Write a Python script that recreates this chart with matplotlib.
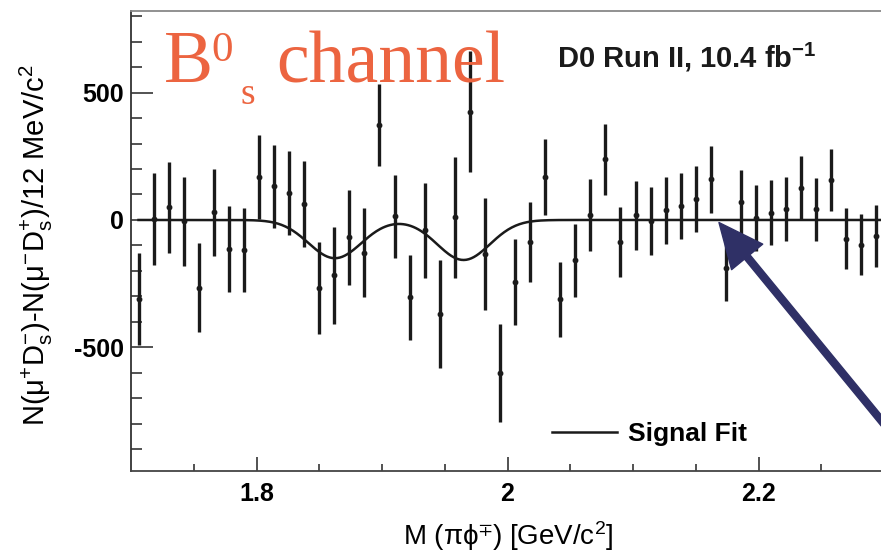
import numpy as np
import matplotlib
matplotlib.use('Agg')
import matplotlib.pyplot as plt

plt.rcParams['axes.unicode_minus'] = False

# bin centres (12 MeV bins) and asymmetry N(mu+Ds-) - N(mu-Ds+)
mass = [1.706, 1.718, 1.730, 1.742, 1.754, 1.766, 1.778, 1.790, 1.802, 1.814,
        1.826, 1.838, 1.850, 1.862, 1.874, 1.886, 1.898, 1.910, 1.922, 1.934,
        1.946, 1.958, 1.970, 1.982, 1.994, 2.006, 2.018, 2.030, 2.042, 2.054,
        2.066, 2.078, 2.090, 2.102, 2.114, 2.126, 2.138, 2.150, 2.162, 2.174,
        2.186, 2.198, 2.210, 2.222, 2.234, 2.246, 2.258, 2.270, 2.282, 2.294]
diff = [-310, 5, 50, -5, -265, 30, -115, -118, 170, 132,
        106, 62, -268, -217, -68, -128, 372, 14, -304, -40,
        -370, 10, 425, -132, -600, -243, -86, 168, -312, -158,
        21, 238, -86, 18, -5, 38, 54, 81, 159, -188,
        70, 8, 29, 44, 125, 42, 158, -73, -97, -63]
err = [180, 180, 178, 175, 173, 170, 168, 166, 165, 163,
       165, 170, 180, 190, 187, 175, 162, 162, 168, 186,
       212, 237, 238, 220, 192, 170, 158, 150, 147, 144,
       141, 139, 136, 135, 134, 132, 130, 130, 130, 130,
       126, 128, 126, 125, 126, 123, 122, 120, 119, 120]

# signal fit: D+ and Ds peaks
fit_mass = [1.8625, 1.965]
fit_amp = [-150, -157]
fit_sigma = 0.021

ink = '#1a1a1a'

fig = plt.figure(figsize=(8.81, 5.53), dpi=100)
ax = fig.add_axes([131/881., 82/553., 750/881., 460/553.])

xf = np.linspace(mass[0], 2.31, 600)
yf = np.zeros_like(xf)
for m, a in zip(fit_mass, fit_amp):
    yf += a * np.exp(-(xf - m)**2 / (2 * fit_sigma**2))
fitline, = ax.plot(xf, yf, color=ink, lw=1.8, label='Signal Fit')

ax.errorbar(mass, diff, yerr=err, fmt='o', ms=3.2, color=ink, ecolor=ink,
            elinewidth=2.4, capsize=0)

ax.set_xlim(1.7, 2.2976)
ax.set_ylim(-985, 820)

ax.set_xticks([1.8, 2.0, 2.2])
ax.set_xticklabels(['1.8', '2', '2.2'])
ax.set_xticks(np.arange(1.75, 2.3, 0.05), minor=True)
ax.set_yticks([-500, 0, 500])
ax.set_yticklabels(['-500', '0', '500'])
ax.set_yticks(np.arange(-900, 801, 100), minor=True)

for lab in ax.get_xticklabels() + ax.get_yticklabels():
    lab.set_fontweight('bold')
    lab.set_fontsize(18)
    lab.set_family('Liberation Sans')
ax.tick_params(axis='y', which='major', direction='in', length=16, width=1.3, color='#444444', pad=5)
ax.tick_params(axis='y', which='minor', direction='in', length=8, width=1.3, color='#444444')
ax.tick_params(axis='x', which='major', direction='in', length=10, width=1.3, color='#444444', pad=8)
ax.tick_params(axis='x', which='minor', direction='in', length=5, width=1.3, color='#444444')

ax.spines['right'].set_visible(False)
ax.spines['top'].set_color('#888888')
ax.spines['left'].set_color('#333333')
ax.spines['bottom'].set_color('#444444')
for s in ['top', 'left', 'bottom']:
    ax.spines[s].set_linewidth(1.3)

ax.set_ylabel(r'N($\mathregular{\mu^{+}D_{s}^{-}}$)-N($\mathregular{\mu^{-}D_{s}^{+}}$)/12 MeV/c$\mathregular{^{2}}$',
              fontsize=21, family='Liberation Sans')
ax.yaxis.set_label_coords(-0.101, 0.49)
fig.text(508/881., 1 - 536/553., r'M ($\mathregular{\pi\phi^{\mp}}$) [GeV/c$\mathregular{^{2}}$]',
         fontsize=20, family='Liberation Sans', ha='center', va='center')

leg = ax.legend(handles=[fitline], loc='center left', bbox_to_anchor=(0.561, 0.08),
                frameon=False, borderpad=0, borderaxespad=0, handlelength=2.46,
                handletextpad=0.42, prop={'family': 'Liberation Sans', 'weight': 'bold', 'size': 19})

fig.text(557/881., 1 - 67/553., r'D0 Run II, 10.4 fb$\mathregular{^{-1}}$', fontsize=21,
         family='Liberation Sans', fontweight='bold', color=ink, ha='left', va='baseline')

# handwritten title
orange = '#ec6440'
fig.text(164/881., 1 - 82/553., 'B', fontsize=53, family='Liberation Serif', color=orange, va='baseline')
fig.text(211/881., 1 - 61/553., '0', fontsize=31, family='Liberation Serif', color=orange, va='baseline')
fig.text(240/881., 1 - 104/553., 's', fontsize=27, family='Liberation Serif', color=orange, va='baseline')
fig.text(276/881., 1 - 82/553., 'channel', fontsize=53, family='Liberation Serif', color=orange, va='baseline')

# arrow pointing at the fit line
ax.annotate('', xy=(2.1685, -10), xytext=(2.315, -890), annotation_clip=False,
            arrowprops=dict(width=5, headwidth=29, headlength=32, shrink=0,
                            facecolor='#2f3066', edgecolor='#2f3066'))

fig.savefig('out.png', dpi=100)
